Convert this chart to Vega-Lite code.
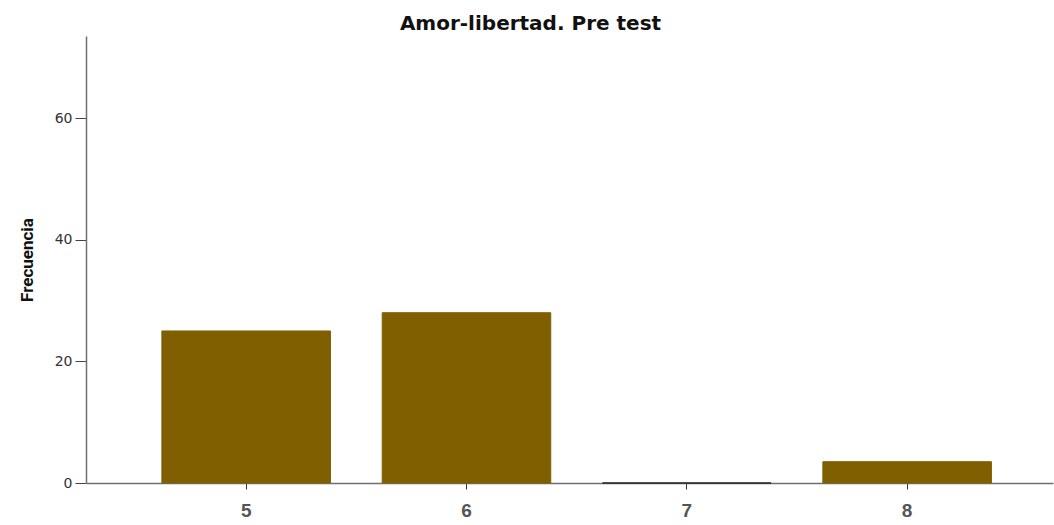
{
  "$schema": "https://vega.github.io/schema/vega-lite/v6.json",
  "autosize": {"type": "none"},
  "padding": {"left": 86, "top": 36, "right": 1, "bottom": 42},
  "width": 967,
  "height": 447,
  "background": "white",
  "title": {
    "text": "Amor-libertad. Pre test",
    "font": "DejaVu Sans",
    "fontSize": 20,
    "fontWeight": "bold",
    "color": "#111111",
    "anchor": "middle",
    "dx": -39,
    "offset": 2
  },
  "data": {
    "values": [
      {"Valor": "5", "Frecuencia": 25},
      {"Valor": "6", "Frecuencia": 28},
      {"Valor": "7", "Frecuencia": 0},
      {"Valor": "8", "Frecuencia": 3.5}
    ]
  },
  "mark": {"type": "bar", "strokeWidth": 1},
  "encoding": {
    "x": {
      "field": "Valor",
      "type": "ordinal",
      "sort": null,
      "scale": {"paddingInner": 0.235, "paddingOuter": 0.312, "align": 0.552},
      "axis": {
        "title": null,
        "labelAngle": 0,
        "labelFont": "Liberation Sans",
        "labelFontSize": 19,
        "labelFontWeight": "bold",
        "labelColor": "#555555",
        "labelPadding": 12,
        "tickSize": 6,
        "tickColor": "#333333",
        "domainColor": "#707070",
        "domainWidth": 1.5,
        "grid": false
      }
    },
    "y": {
      "field": "Frecuencia",
      "type": "quantitative",
      "scale": {"domain": [0, 73.5], "nice": false},
      "axis": {
        "title": "Frecuencia",
        "titleFont": "Roboto",
        "titleFontSize": 17,
        "titleFontWeight": "bold",
        "titleColor": "#111111",
        "titlePadding": 18,
        "values": [0, 20, 40, 60],
        "labelFont": "DejaVu Sans",
        "labelFontSize": 14,
        "labelColor": "#333333",
        "labelPadding": 3,
        "tickSize": 11,
        "tickColor": "#444444",
        "domainColor": "#707070",
        "domainWidth": 1.5,
        "grid": false
      }
    },
    "color": {"value": "#7f5f00"},
    "stroke": {
      "condition": {"test": "datum.Frecuencia == 0", "value": "#222222"},
      "value": "#7f5f00"
    }
  },
  "config": {"view": {"stroke": null}}
}
